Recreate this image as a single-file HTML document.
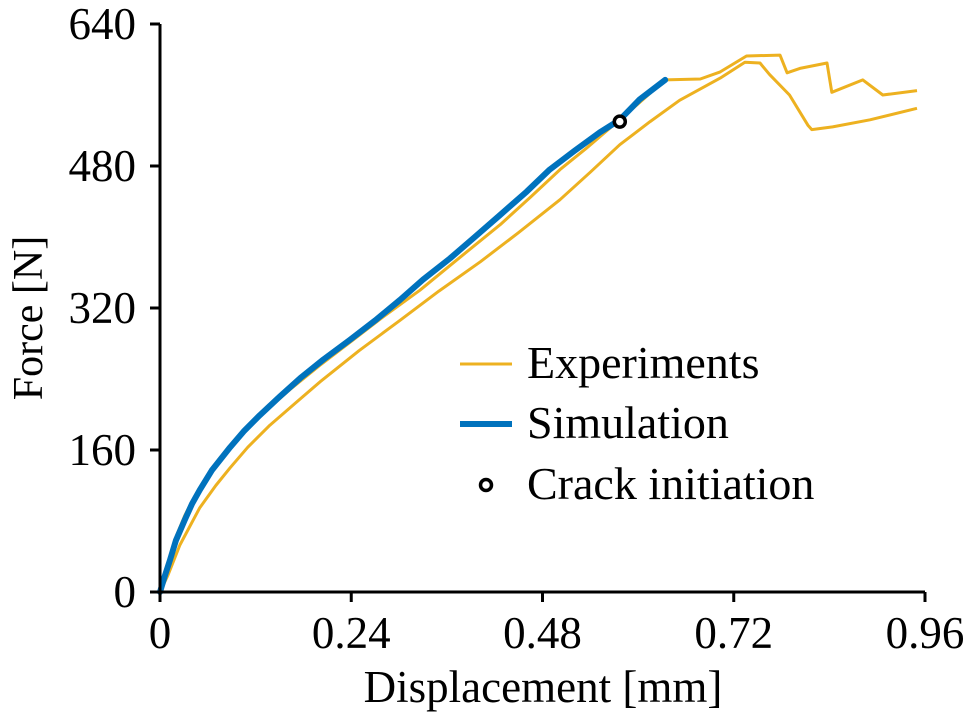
<!DOCTYPE html>
<html><head><meta charset="utf-8"><style>
body{margin:0;background:#fff}
svg text{font-family:"Liberation Serif",serif;fill:#000}
</style></head><body>
<svg width="969" height="716">
<g id="plot"></g>
</svg>
<script>
const xTicks=[0,0.24,0.48,0.72,0.96];
const xTickLabels=["0","0.24","0.48","0.72","0.96"];
const yTicks=[0,160,320,480,640];
const yTickLabels=["0","160","320","480","640"];
const expAx=[0,.006,.013,.021,.031,.043,.056,.075,.100,.130,.163,.200,.238,.280,.326,.375,.427,.465,.502,.535,.565,.600,.634,.678,.703,.736,.778,.787,.803,.837,.843,.882,.907,.950];
const expAy=[0,20,42,64,86,107,126,151,175,202,228,255,281,310,340,376,414,445,476,500,523,550,577,578,586,604,605,585,590,596,563,577,560,565];
const expBx=[0,.010,.025,.050,.070,.088,.110,.138,.170,.201,.250,.301,.350,.402,.450,.502,.540,.577,.615,.652,.703,.734,.753,.765,.790,.813,.818,.844,.891,.950];
const expBy=[0,19,53,95,120,140,163,188,213,237,272,306,339,372,405,442,473,504,530,554,579,597,596,583,560,526,521,524,532,545];
const simX=[0,.006,.0125,.020,.031,.040,.050,.065,.088,.105,.125,.150,.176,.205,.238,.270,.301,.330,.364,.395,.427,.460,.489,.520,.552,.577,.602,.634];
const simY=[0,18,36,58,81,99,115,137,163,181,199,220,241,262,284,306,329,352,376,400,425,451,476,497,518,532,555,577];
const crackX=[0.577];
const crackY=[530];
const X0=160,X1=925,Y0=592,Y1=24;
const sx=v=>X0+(v/0.96)*(X1-X0);
const sy=v=>Y0-(v/640)*(Y0-Y1);
const NS="http://www.w3.org/2000/svg";
const g=document.getElementById('plot');
function mk(t,a){const e=document.createElementNS(NS,t);for(const k in a)e.setAttribute(k,a[k]);g.appendChild(e);return e;}
function path(xs,ys){return xs.map((x,i)=>(i?'L':'M')+sx(x).toFixed(1)+','+sy(ys[i]).toFixed(1)).join('');}
let e;
e=mk('path',{d:path(expAx,expAy),fill:'none',stroke:'#EDB120',"stroke-width":3,"stroke-linejoin":"round"});


e=mk('path',{d:path(expBx,expBy),fill:'none',stroke:'#EDB120',"stroke-width":3,"stroke-linejoin":"round"});


e=mk('path',{d:path(simX,simY),fill:'none',stroke:'#0072BD',"stroke-width":6,"stroke-linecap":"round","stroke-linejoin":"round"});


e=mk('circle',{cx:sx(crackX[0]),cy:sy(crackY[0]),r:5.5,fill:'#fff',stroke:'#000',"stroke-width":3.5});


e=mk('line',{x1:X0,y1:Y0,x2:X0,y2:Y1,stroke:'#000',"stroke-width":3});


e=mk('line',{x1:X0-1.5,y1:Y0,x2:X1,y2:Y0,stroke:'#000',"stroke-width":3});


xTicks.forEach((v,i)=>{
 let t=mk('line',{x1:sx(v),y1:Y0,x2:sx(v),y2:Y0+10,stroke:'#000',"stroke-width":3});
 
 
 t=mk('text',{x:sx(v),y:648,"font-size":45,"text-anchor":"middle"});t.textContent=xTickLabels[i];
 
 
});
yTicks.forEach((v,i)=>{
 let t=mk('line',{x1:X0-10,y1:sy(v),x2:X0,y2:sy(v),stroke:'#000',"stroke-width":3});
 
 
 t=mk('text',{x:136,y:sy(v)+15,"font-size":45,"text-anchor":"end"});t.textContent=yTickLabels[i];
 
 
});
e=mk('text',{x:543,y:702,"font-size":45,"text-anchor":"middle"});e.textContent='Displacement [mm]';


e=mk('text',{x:42,y:318,"font-size":42,"text-anchor":"middle",transform:'rotate(-90 42 318)'});e.textContent='Force [N]';


e=mk('line',{x1:460,y1:364,x2:512,y2:364,stroke:'#EDB120',"stroke-width":3});


e=mk('text',{x:527,y:378,"font-size":46});e.textContent='Experiments';


e=mk('line',{x1:460,y1:424,x2:512,y2:424,stroke:'#0072BD',"stroke-width":6});


e=mk('text',{x:527,y:438,"font-size":46});e.textContent='Simulation';


e=mk('circle',{cx:486,cy:485,r:5.5,fill:'#fff',stroke:'#000',"stroke-width":3.5});


e=mk('text',{x:527,y:499,"font-size":46});e.textContent='Crack initiation';


</script>
</body></html>
